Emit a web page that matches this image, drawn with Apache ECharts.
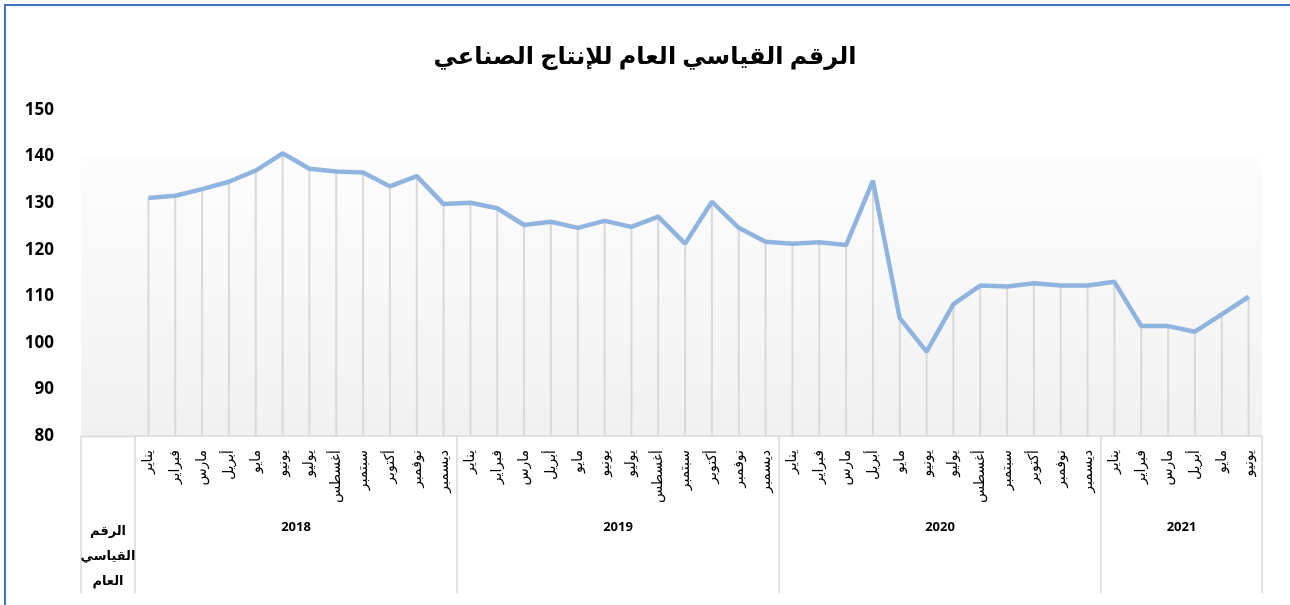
<!DOCTYPE html>
<html>
<head>
<meta charset="utf-8">
<script src="https://cdn.jsdelivr.net/npm/echarts@6/dist/echarts.min.js"></script>
<style>
  body { margin: 0; background: #fff; }
  #chart { width: 1290px; height: 605px; }
</style>
</head>
<body>
<div id="chart"></div>
<script>
// الأشهر
var months = ["يناير", "فبراير", "مارس", "أبريل", "مايو", "يونيو", "يوليو", "أغسطس", "سبتمبر", "أكتوبر", "نوفمبر", "ديسمبر"];
var years = ["2018", "2019", "2020", "2021"];
var monthsPerYear = [12, 12, 12, 6];

// الرقم القياسي العام (قراءة تقريبية من الصورة)
var values2018 = [131.1, 131.6, 133.0, 134.6, 137.0, 140.7, 137.4, 136.8, 136.6, 133.6, 135.8, 129.8];
var values2019 = [130.1, 128.9, 125.3, 126.0, 124.7, 126.2, 124.9, 127.1, 121.3, 130.3, 124.7, 121.7];
var values2020 = [121.3, 121.6, 121.0, 134.8, 105.3, 98.1, 108.3, 112.3, 112.1, 112.8, 112.3, 112.3];
var values2021 = [113.1, 103.6, 103.6, 102.4, 106.1, 109.9];

var yTicks = [80, 90, 100, 110, 120, 130, 140, 150];

var seriesName = "الرقم القياسي العام";
var titleText = "الرقم القياسي العام للإنتاج الصناعي";

// بناء المحور الفئوي
var categories = [];
monthsPerYear.forEach(function (n) {
  for (var i = 0; i < n; i++) categories.push(months[i]);
});
var values = values2018.concat(values2019, values2020, values2021);

// حدود السنوات ومراكزها على المحور الثاني
var bounds = [0];
var centers = [];
monthsPerYear.forEach(function (n, i) {
  centers.push(bounds[i] + n / 2);
  bounds.push(bounds[i] + n);
});

var chart = echarts.init(document.getElementById("chart"));
var arFont = "'Open Sans', 'DejaVu Sans', sans-serif";
var lineGray = "#d9d9d9";

var option = {
  animation: false,
  backgroundColor: "#fff",
  title: {
    text: titleText,
    left: "center",
    top: 45,
    padding: 0,
    textStyle: { fontFamily: arFont, fontSize: 24, fontWeight: "bold", color: "#000" }
  },
  grid: { left: 135, right: 28, top: 110, bottom: 169 },
  xAxis: [{
    type: "category",
    data: categories,
    boundaryGap: true,
    position: "bottom",
    axisLine: { lineStyle: { color: lineGray, width: 1.5 } },
    axisTick: { show: false },
    axisLabel: {
      rotate: 90,
      interval: 0,
      margin: 14,
      fontFamily: arFont,
      fontSize: 14,
      color: "#000"
    }
  }, {
    type: "value",
    min: 0,
    max: bounds[bounds.length - 1],
    position: "bottom",
    offset: 0,
    splitLine: { show: false },
    axisLine: { show: false },
    axisTick: {
      show: true,
      customValues: bounds,
      length: 157,
      lineStyle: { color: lineGray, width: 1.5 }
    },
    axisLabel: {
      customValues: centers,
      margin: 85,
      fontFamily: arFont,
      fontSize: 13,
      fontWeight: "bold",
      color: "#000",
      formatter: function (v) {
        var i = centers.indexOf(v);
        return i >= 0 ? years[i] : "";
      }
    }
  }],
  yAxis: {
    type: "value",
    min: yTicks[0],
    max: yTicks[yTicks.length - 1],
    interval: 10,
    axisLine: { show: false },
    axisTick: { show: false },
    splitLine: { show: false },
    axisLabel: {
      margin: 81,
      fontFamily: arFont,
      fontSize: 17,
      fontWeight: "bold",
      color: "#000"
    }
  },
  graphic: [
    // إطار المخطط
    {
      type: "rect", z: 0, silent: true,
      shape: { x: 5, y: 5, width: 1400, height: 800 },
      style: { fill: null, stroke: "#4472c4", lineWidth: 2 }
    },
    // خلفية منطقة الرسم المتدرجة
    {
      type: "rect", z: 0, silent: true,
      shape: { x: 81, y: 155, width: 1181, height: 281 },
      style: {
        fill: new echarts.graphic.LinearGradient(0, 0, 0, 1, [
          { offset: 0, color: "#fdfdfd" },
          { offset: 1, color: "#f1f1f1" }
        ])
      }
    },
    // خلية اسم السلسلة في جدول البيانات
    {
      type: "polyline", z: 1, silent: true,
      shape: { points: [[135, 436.5], [81, 436.5], [81, 593]] },
      style: { fill: null, stroke: lineGray, lineWidth: 1.5 }
    },
    {
      type: "text", z: 1, silent: true,
      x: 108, y: 556,
      style: {
        text: "الرقم\nالقياسي\nالعام",
        fontFamily: arFont, fontSize: 13, fontWeight: "bold", fill: "#000",
        align: "center", verticalAlign: "middle", lineHeight: 25
      }
    }
  ],
  series: [{
    // خطوط الإسقاط
    type: "bar",
    name: "drop",
    data: values,
    xAxisIndex: 0,
    barWidth: 2,
    z: 2,
    itemStyle: { color: lineGray },
    silent: true
  }, {
    type: "line",
    name: seriesName,
    data: values,
    xAxisIndex: 0,
    z: 3,
    showSymbol: false,
    symbol: "none",
    lineStyle: { color: "#8fb4e0", width: 4.5 },
    itemStyle: { color: "#8fb4e0" }
  }]
};

chart.setOption(option);
window.addEventListener("resize", function () { chart.resize(); });
</script>
</body>
</html>
